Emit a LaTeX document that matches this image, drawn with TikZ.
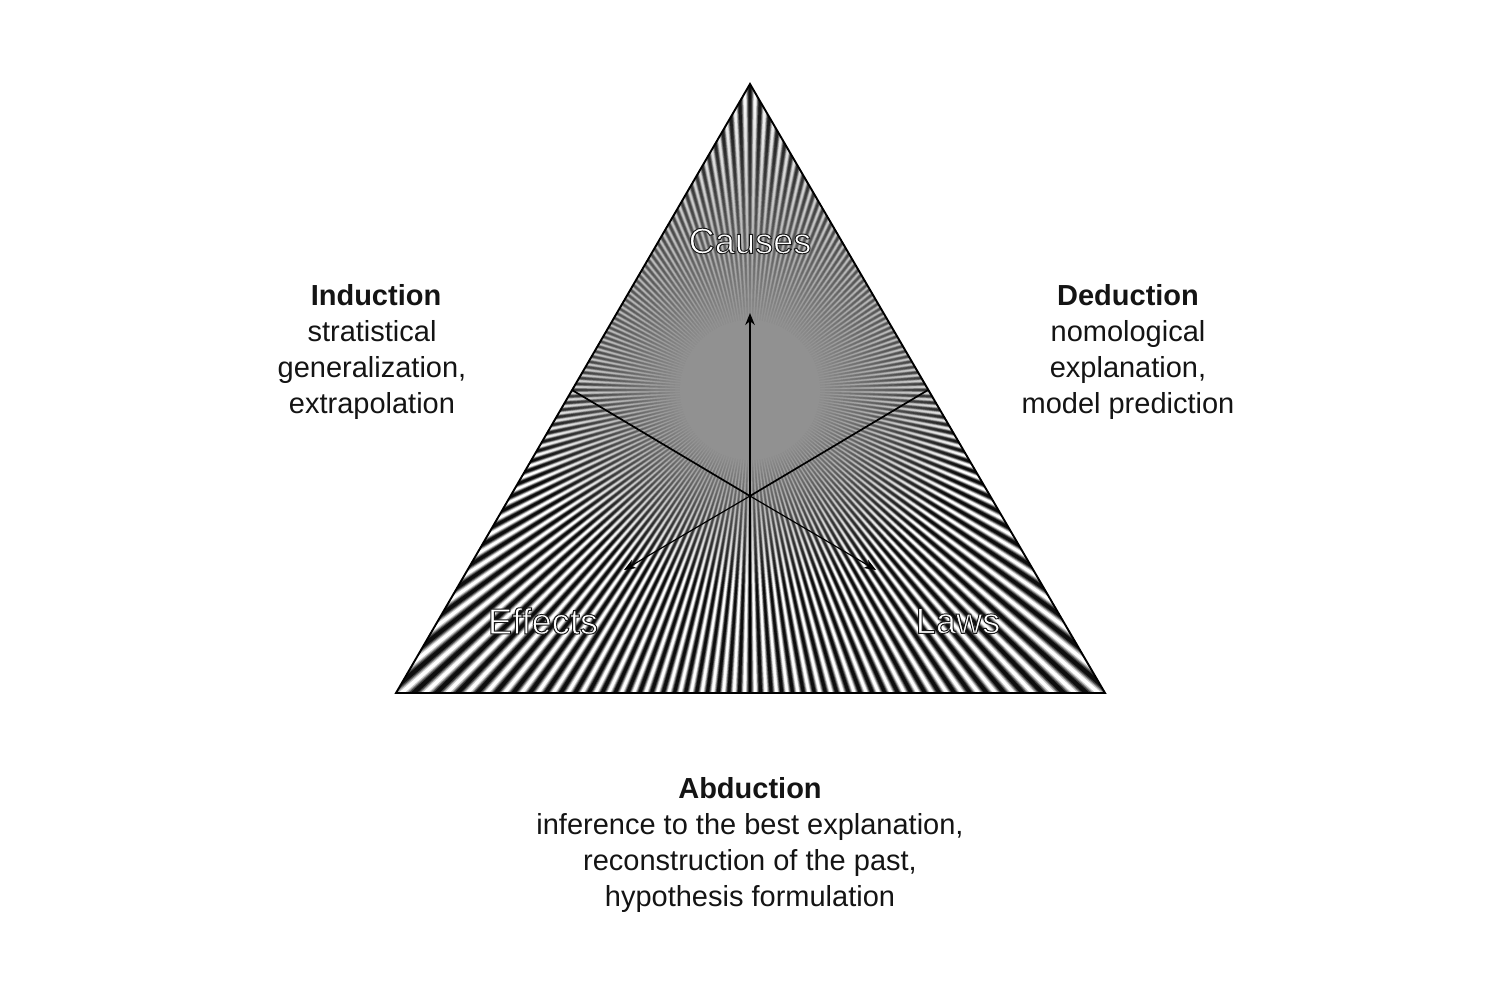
\documentclass[tikz,border=0pt]{standalone}
\usepackage{fontspec}
\setmainfont{Liberation Sans}
\usepackage{xcolor}
\usepackage{tikz}
\usetikzlibrary{arrows.meta}

\newcommand{\outlined}[1]{\special{pdf:code 2 Tr 0.55 w 0.1 G 1 g}#1\special{pdf:code 0 Tr}}

\begin{document}
\begin{tikzpicture}[
  x=0.2mm, y=-0.2mm,
  inference/.style={align=center, inner sep=0pt, text=black!92,
                    font=\fontsize{16.5}{20.4}\selectfont},
  corner/.style={inner sep=0pt, font=\fontsize{20.6}{24}\selectfont},
  edge/.style={line width=0.38mm},
  spoke/.style={line width=0.34mm},
  arrow/.style={-{Stealth[length=2.4mm,width=1.9mm]}, line width=0.36mm},
  thinarrow/.style={-{Stealth[length=2.4mm,width=1.9mm]}, line width=0.24mm},
]
  \useasboundingbox (0,0) rectangle (1500,1000);

  \coordinate (apex) at (750,84);
  \coordinate (left) at (396,693);
  \coordinate (right) at (1105,693);
  \coordinate (centre) at (750,496);
  \coordinate (star) at (750,390);
  \coordinate (leftmid) at (572,390);
  \coordinate (rightmid) at (928,390);
  \coordinate (bottommid) at (750,693);
  \coordinate (causetip) at (750,313);
  \coordinate (effecttip) at (624,570);
  \coordinate (lawtip) at (876,570);

  % striped star, clipped to the triangle
  \begin{scope}
    \clip (apex) -- (left) -- (right) -- cycle;
    \begin{scope}[shift={(star)}]
      \foreach \w/\c in {0.74/black!22, 0.58/black!48, 0.44/black!74, 0.28/black!95}{
        \fill[\c] \foreach \a in {0,2,...,358}{
          (0,0) -- (\a-\w:600) -- (\a+\w:600) -- cycle
        };
      }
      % contrast fades towards the middle, the rings creep upwards as they grow
      \definecolor{midgray}{gray}{0.57}
      \foreach \r in {250,245,...,70}{
        \pgfmathsetmacro\o{5/(\r-65)}
        \pgfmathsetmacro\up{0.3*(70-\r)}
        \fill[midgray, opacity=\o] (0,\up) circle [radius=\r];
      }
    \end{scope}
  \end{scope}

  \draw[edge] (apex) -- (left) -- (right) -- cycle;

  \draw[spoke] (centre) -- (leftmid);
  \draw[spoke] (centre) -- (rightmid);
  \draw[spoke] (centre) -- (bottommid);
  \draw[arrow] (centre) -- (causetip);
  \draw[thinarrow] (centre) -- (effecttip);
  \draw[thinarrow] (centre) -- (lawtip);

  \node[corner] (causes) at (750,241) {\outlined{Causes}};
  \node[corner] (effects) at (543,621) {\outlined{Effects}};
  \node[corner] (laws) at (958,621) {\outlined{Laws}};

  \node[inference] (induction) at (372,352)
    {\hspace*{1.6mm}\textbf{Induction}\\stratistical\\generalization,\\extrapolation};
  \node[inference] (deduction) at (1128,352)
    {\textbf{Deduction}\\nomological\\explanation,\\model prediction};
  \node[inference] (abduction) at (750,845)
    {\textbf{Abduction}\\inference to the best explanation,\\reconstruction of the past,\\hypothesis formulation};
\end{tikzpicture}
\end{document}
